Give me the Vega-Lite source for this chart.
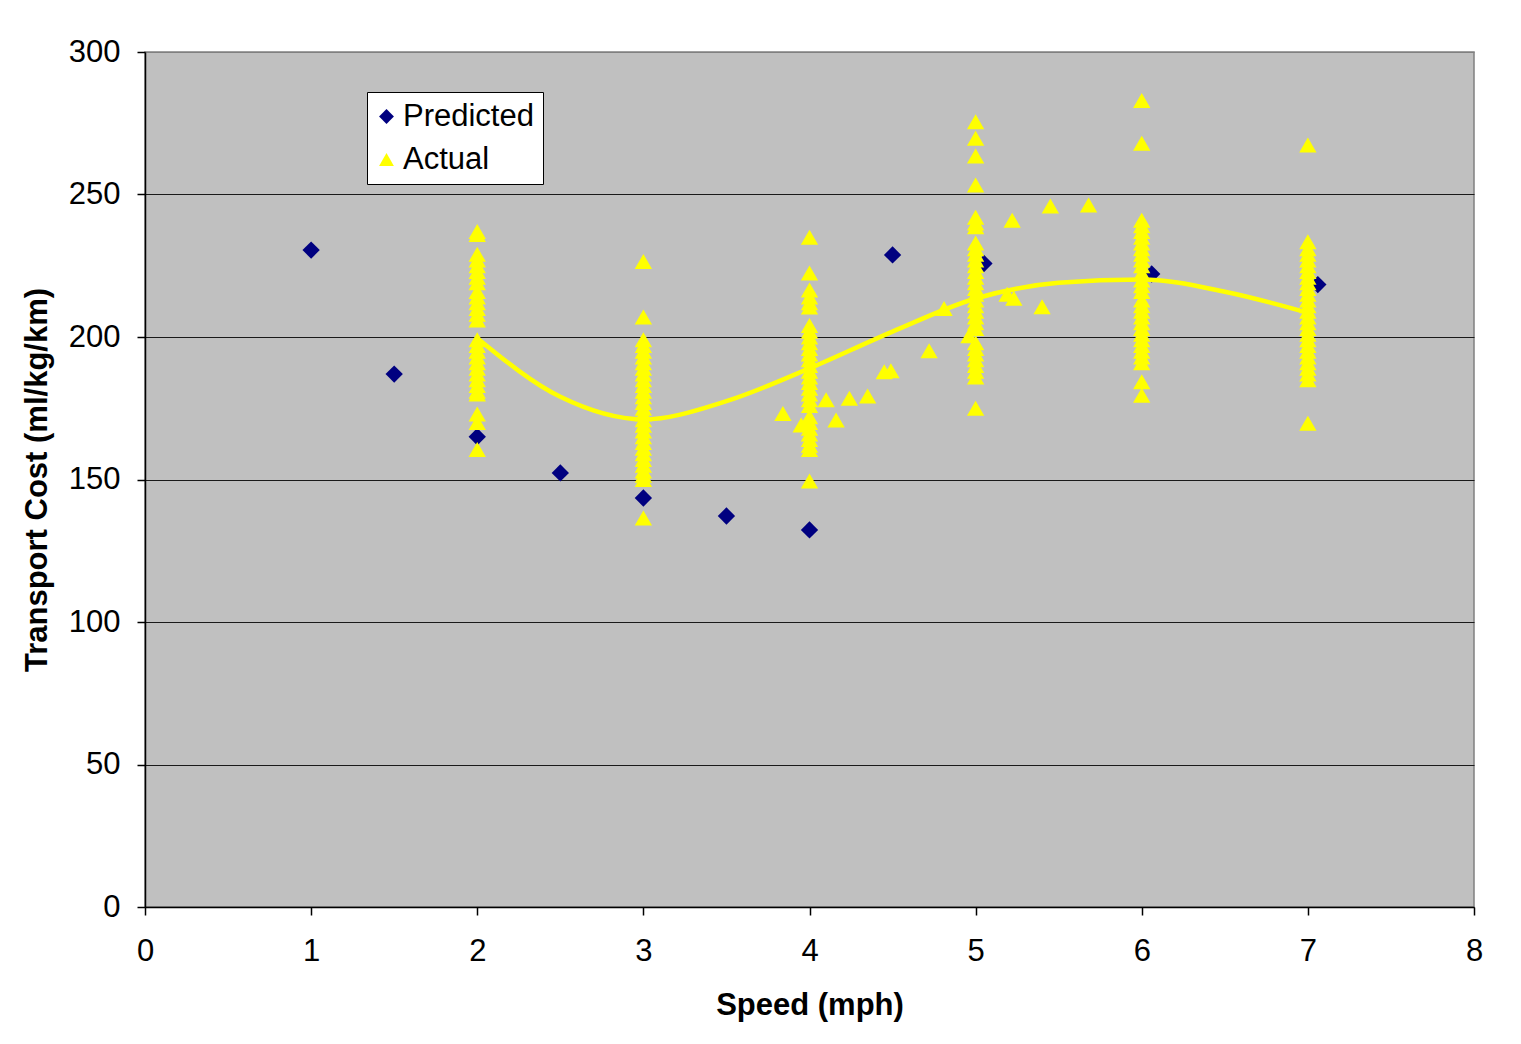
{
  "$schema": "https://vega.github.io/schema/vega-lite/v6.json",
  "width": 1329,
  "height": 855,
  "autosize": {"type": "none"},
  "padding": {"left": 145, "top": 52, "right": 47, "bottom": 137},
  "background": "#FFFFFF",
  "config": {
    "font": "Liberation Sans",
    "view": {"fill": "#C0C0C0", "stroke": "#808080", "strokeWidth": 1.5},
    "axis": {
      "labelFont": "Liberation Sans",
      "labelFontSize": 31,
      "labelColor": "#000000",
      "titleFont": "Liberation Sans",
      "titleFontSize": 31,
      "titleFontWeight": "bold",
      "titleColor": "#000000",
      "domainColor": "#000000",
      "domainWidth": 1.5,
      "tickColor": "#000000",
      "tickSize": 8,
      "tickWidth": 1.5
    },
    "legend": {
      "labelFont": "Liberation Sans",
      "labelFontSize": 31,
      "labelColor": "#000000"
    }
  },
  "datasets": {
    "points": [
      {"speed": 1, "cost": 230.5, "series": "Predicted"},
      {"speed": 1.5, "cost": 187, "series": "Predicted"},
      {"speed": 2, "cost": 165, "series": "Predicted"},
      {"speed": 2.5, "cost": 152.3, "series": "Predicted"},
      {"speed": 3, "cost": 143.5, "series": "Predicted"},
      {"speed": 3.5, "cost": 137.2, "series": "Predicted"},
      {"speed": 4, "cost": 132.3, "series": "Predicted"},
      {"speed": 4.5, "cost": 228.8, "series": "Predicted"},
      {"speed": 5.05, "cost": 225.8, "series": "Predicted"},
      {"speed": 6.06, "cost": 222.1, "series": "Predicted"},
      {"speed": 7.06, "cost": 218.4, "series": "Predicted"},

      {"speed": 2, "cost": 256.5, "series": "Actual"},
      {"speed": 2, "cost": 237, "series": "Actual"},
      {"speed": 2, "cost": 236, "series": "Actual"},
      {"speed": 2, "cost": 229, "series": "Actual"},
      {"speed": 2, "cost": 227, "series": "Actual"},
      {"speed": 2, "cost": 225, "series": "Actual"},
      {"speed": 2, "cost": 223, "series": "Actual"},
      {"speed": 2, "cost": 221, "series": "Actual"},
      {"speed": 2, "cost": 219, "series": "Actual"},
      {"speed": 2, "cost": 216, "series": "Actual"},
      {"speed": 2, "cost": 214, "series": "Actual"},
      {"speed": 2, "cost": 212, "series": "Actual"},
      {"speed": 2, "cost": 210, "series": "Actual"},
      {"speed": 2, "cost": 208, "series": "Actual"},
      {"speed": 2, "cost": 206, "series": "Actual"},
      {"speed": 2, "cost": 199, "series": "Actual"},
      {"speed": 2, "cost": 197, "series": "Actual"},
      {"speed": 2, "cost": 195, "series": "Actual"},
      {"speed": 2, "cost": 193, "series": "Actual"},
      {"speed": 2, "cost": 191, "series": "Actual"},
      {"speed": 2, "cost": 189, "series": "Actual"},
      {"speed": 2, "cost": 187, "series": "Actual"},
      {"speed": 2, "cost": 185, "series": "Actual"},
      {"speed": 2, "cost": 183, "series": "Actual"},
      {"speed": 2, "cost": 181, "series": "Actual"},
      {"speed": 2, "cost": 180, "series": "Actual"},
      {"speed": 2, "cost": 173, "series": "Actual"},
      {"speed": 2, "cost": 170, "series": "Actual"},
      {"speed": 2, "cost": 160.5, "series": "Actual"},

      {"speed": 3, "cost": 226.5, "series": "Actual"},
      {"speed": 3, "cost": 207, "series": "Actual"},
      {"speed": 3, "cost": 199, "series": "Actual"},
      {"speed": 3, "cost": 197, "series": "Actual"},
      {"speed": 3, "cost": 195, "series": "Actual"},
      {"speed": 3, "cost": 193, "series": "Actual"},
      {"speed": 3, "cost": 191, "series": "Actual"},
      {"speed": 3, "cost": 189, "series": "Actual"},
      {"speed": 3, "cost": 187, "series": "Actual"},
      {"speed": 3, "cost": 185, "series": "Actual"},
      {"speed": 3, "cost": 183, "series": "Actual"},
      {"speed": 3, "cost": 181, "series": "Actual"},
      {"speed": 3, "cost": 179, "series": "Actual"},
      {"speed": 3, "cost": 177, "series": "Actual"},
      {"speed": 3, "cost": 175, "series": "Actual"},
      {"speed": 3, "cost": 173, "series": "Actual"},
      {"speed": 3, "cost": 171, "series": "Actual"},
      {"speed": 3, "cost": 169, "series": "Actual"},
      {"speed": 3, "cost": 167, "series": "Actual"},
      {"speed": 3, "cost": 165, "series": "Actual"},
      {"speed": 3, "cost": 163, "series": "Actual"},
      {"speed": 3, "cost": 161, "series": "Actual"},
      {"speed": 3, "cost": 159, "series": "Actual"},
      {"speed": 3, "cost": 157, "series": "Actual"},
      {"speed": 3, "cost": 155, "series": "Actual"},
      {"speed": 3, "cost": 153, "series": "Actual"},
      {"speed": 3, "cost": 151.5, "series": "Actual"},
      {"speed": 3, "cost": 150, "series": "Actual"},
      {"speed": 3, "cost": 136.5, "series": "Actual"},

      {"speed": 4, "cost": 235, "series": "Actual"},
      {"speed": 4, "cost": 222.5, "series": "Actual"},
      {"speed": 4, "cost": 216.5, "series": "Actual"},
      {"speed": 4, "cost": 214, "series": "Actual"},
      {"speed": 4, "cost": 212, "series": "Actual"},
      {"speed": 4, "cost": 210.5, "series": "Actual"},
      {"speed": 4, "cost": 204, "series": "Actual"},
      {"speed": 4, "cost": 202, "series": "Actual"},
      {"speed": 4, "cost": 200, "series": "Actual"},
      {"speed": 4, "cost": 198, "series": "Actual"},
      {"speed": 4, "cost": 196, "series": "Actual"},
      {"speed": 4, "cost": 194, "series": "Actual"},
      {"speed": 4, "cost": 192, "series": "Actual"},
      {"speed": 4, "cost": 190, "series": "Actual"},
      {"speed": 4, "cost": 188, "series": "Actual"},
      {"speed": 4, "cost": 186, "series": "Actual"},
      {"speed": 4, "cost": 184, "series": "Actual"},
      {"speed": 4, "cost": 182, "series": "Actual"},
      {"speed": 4, "cost": 180, "series": "Actual"},
      {"speed": 4, "cost": 178, "series": "Actual"},
      {"speed": 4, "cost": 176, "series": "Actual"},
      {"speed": 4, "cost": 172, "series": "Actual"},
      {"speed": 4, "cost": 170, "series": "Actual"},
      {"speed": 4, "cost": 168, "series": "Actual"},
      {"speed": 4, "cost": 166, "series": "Actual"},
      {"speed": 4, "cost": 164, "series": "Actual"},
      {"speed": 4, "cost": 162, "series": "Actual"},
      {"speed": 4, "cost": 160.5, "series": "Actual"},
      {"speed": 4, "cost": 149.5, "series": "Actual"},

      {"speed": 3.84, "cost": 173.2, "series": "Actual"},
      {"speed": 3.95, "cost": 169.1, "series": "Actual"},
      {"speed": 4.1, "cost": 178, "series": "Actual"},
      {"speed": 4.16, "cost": 170.9, "series": "Actual"},
      {"speed": 4.24, "cost": 178.5, "series": "Actual"},
      {"speed": 4.35, "cost": 179.3, "series": "Actual"},
      {"speed": 4.45, "cost": 187.8, "series": "Actual"},
      {"speed": 4.49, "cost": 188.2, "series": "Actual"},
      {"speed": 4.72, "cost": 195.2, "series": "Actual"},
      {"speed": 4.81, "cost": 210, "series": "Actual"},
      {"speed": 4.96, "cost": 200.4, "series": "Actual"},

      {"speed": 5, "cost": 275.5, "series": "Actual"},
      {"speed": 5, "cost": 269.7, "series": "Actual"},
      {"speed": 5, "cost": 263.5, "series": "Actual"},
      {"speed": 5, "cost": 253.3, "series": "Actual"},
      {"speed": 5, "cost": 242, "series": "Actual"},
      {"speed": 5, "cost": 240, "series": "Actual"},
      {"speed": 5, "cost": 238.7, "series": "Actual"},
      {"speed": 5, "cost": 233, "series": "Actual"},
      {"speed": 5, "cost": 231, "series": "Actual"},
      {"speed": 5, "cost": 229, "series": "Actual"},
      {"speed": 5, "cost": 227, "series": "Actual"},
      {"speed": 5, "cost": 225, "series": "Actual"},
      {"speed": 5, "cost": 223, "series": "Actual"},
      {"speed": 5, "cost": 221, "series": "Actual"},
      {"speed": 5, "cost": 219, "series": "Actual"},
      {"speed": 5, "cost": 217, "series": "Actual"},
      {"speed": 5, "cost": 215, "series": "Actual"},
      {"speed": 5, "cost": 213, "series": "Actual"},
      {"speed": 5, "cost": 211, "series": "Actual"},
      {"speed": 5, "cost": 209, "series": "Actual"},
      {"speed": 5, "cost": 207, "series": "Actual"},
      {"speed": 5, "cost": 205, "series": "Actual"},
      {"speed": 5, "cost": 203, "series": "Actual"},
      {"speed": 5, "cost": 198, "series": "Actual"},
      {"speed": 5, "cost": 196, "series": "Actual"},
      {"speed": 5, "cost": 194, "series": "Actual"},
      {"speed": 5, "cost": 192, "series": "Actual"},
      {"speed": 5, "cost": 190, "series": "Actual"},
      {"speed": 5, "cost": 188, "series": "Actual"},
      {"speed": 5, "cost": 186, "series": "Actual"},
      {"speed": 5, "cost": 175, "series": "Actual"},

      {"speed": 5.19, "cost": 215, "series": "Actual"},
      {"speed": 5.22, "cost": 241, "series": "Actual"},
      {"speed": 5.23, "cost": 213.6, "series": "Actual"},
      {"speed": 5.4, "cost": 210.6, "series": "Actual"},
      {"speed": 5.45, "cost": 246, "series": "Actual"},
      {"speed": 5.68, "cost": 246.3, "series": "Actual"},

      {"speed": 6, "cost": 283, "series": "Actual"},
      {"speed": 6, "cost": 268, "series": "Actual"},
      {"speed": 6, "cost": 241, "series": "Actual"},
      {"speed": 6, "cost": 239, "series": "Actual"},
      {"speed": 6, "cost": 237, "series": "Actual"},
      {"speed": 6, "cost": 235, "series": "Actual"},
      {"speed": 6, "cost": 233, "series": "Actual"},
      {"speed": 6, "cost": 231, "series": "Actual"},
      {"speed": 6, "cost": 229, "series": "Actual"},
      {"speed": 6, "cost": 227, "series": "Actual"},
      {"speed": 6, "cost": 225, "series": "Actual"},
      {"speed": 6, "cost": 222.5, "series": "Actual"},
      {"speed": 6, "cost": 220, "series": "Actual"},
      {"speed": 6, "cost": 218, "series": "Actual"},
      {"speed": 6, "cost": 216, "series": "Actual"},
      {"speed": 6, "cost": 213, "series": "Actual"},
      {"speed": 6, "cost": 211, "series": "Actual"},
      {"speed": 6, "cost": 209, "series": "Actual"},
      {"speed": 6, "cost": 207, "series": "Actual"},
      {"speed": 6, "cost": 205, "series": "Actual"},
      {"speed": 6, "cost": 203, "series": "Actual"},
      {"speed": 6, "cost": 201, "series": "Actual"},
      {"speed": 6, "cost": 199, "series": "Actual"},
      {"speed": 6, "cost": 197, "series": "Actual"},
      {"speed": 6, "cost": 195, "series": "Actual"},
      {"speed": 6, "cost": 193, "series": "Actual"},
      {"speed": 6, "cost": 191, "series": "Actual"},
      {"speed": 6, "cost": 184.3, "series": "Actual"},
      {"speed": 6, "cost": 179.6, "series": "Actual"},

      {"speed": 7, "cost": 267.4, "series": "Actual"},
      {"speed": 7, "cost": 233.4, "series": "Actual"},
      {"speed": 7, "cost": 231, "series": "Actual"},
      {"speed": 7, "cost": 229, "series": "Actual"},
      {"speed": 7, "cost": 227, "series": "Actual"},
      {"speed": 7, "cost": 225, "series": "Actual"},
      {"speed": 7, "cost": 223, "series": "Actual"},
      {"speed": 7, "cost": 221, "series": "Actual"},
      {"speed": 7, "cost": 219, "series": "Actual"},
      {"speed": 7, "cost": 217, "series": "Actual"},
      {"speed": 7, "cost": 215, "series": "Actual"},
      {"speed": 7, "cost": 213, "series": "Actual"},
      {"speed": 7, "cost": 211, "series": "Actual"},
      {"speed": 7, "cost": 209, "series": "Actual"},
      {"speed": 7, "cost": 207, "series": "Actual"},
      {"speed": 7, "cost": 205, "series": "Actual"},
      {"speed": 7, "cost": 203, "series": "Actual"},
      {"speed": 7, "cost": 201, "series": "Actual"},
      {"speed": 7, "cost": 199, "series": "Actual"},
      {"speed": 7, "cost": 197, "series": "Actual"},
      {"speed": 7, "cost": 195, "series": "Actual"},
      {"speed": 7, "cost": 193, "series": "Actual"},
      {"speed": 7, "cost": 191, "series": "Actual"},
      {"speed": 7, "cost": 189, "series": "Actual"},
      {"speed": 7, "cost": 187, "series": "Actual"},
      {"speed": 7, "cost": 185, "series": "Actual"},
      {"speed": 7, "cost": 169.7, "series": "Actual"}
    ],
    "trend": [
      {"speed": 2, "cost": 199.6},
      {"speed": 2.5, "cost": 179},
      {"speed": 3, "cost": 171.1},
      {"speed": 3.5, "cost": 177.5},
      {"speed": 4, "cost": 189},
      {"speed": 4.5, "cost": 201.9},
      {"speed": 5, "cost": 213.5},
      {"speed": 5.5, "cost": 219},
      {"speed": 6, "cost": 220.2},
      {"speed": 6.5, "cost": 215.9},
      {"speed": 7, "cost": 208.5}
    ]
  },
  "layer": [
    {
      "data": {"name": "points"},
      "mark": {"type": "point", "filled": true, "opacity": 1, "size": 300, "strokeWidth": 0},
      "encoding": {
        "x": {
          "field": "speed", "type": "quantitative",
          "scale": {"domain": [0, 8], "nice": false, "zero": false},
          "axis": {
            "title": "Speed (mph)",
            "values": [0, 1, 2, 3, 4, 5, 6, 7, 8],
            "format": "d",
            "grid": false,
            "labelFlush": false,
            "labelPadding": 21,
            "titlePadding": 24
          }
        },
        "y": {
          "field": "cost", "type": "quantitative",
          "scale": {"domain": [0, 300], "nice": false},
          "axis": {
            "title": "Transport Cost (ml/kg/km)",
            "values": [0, 50, 100, 150, 200, 250, 300],
            "format": "d",
            "grid": true,
            "labelFlush": false,
            "gridColor": {"condition": {"test": "datum.value === 300", "value": "#808080"}, "value": "#1a1a1a"},
            "gridWidth": 1.2,
            "labelPadding": 17,
            "titlePadding": 15
          }
        },
        "shape": {
          "field": "series", "type": "nominal",
          "scale": {"domain": ["Predicted", "Actual"], "range": ["diamond", "triangle-up"]},
          "legend": {
            "title": null,
            "orient": "none",
            "legendX": 222,
            "legendY": 40,
            "fillColor": "#FFFFFF",
            "strokeColor": "#000000",
            "padding": 9,
            "rowPadding": 11,
            "symbolSize": 220,
            "symbolOffset": -5,
            "symbolStrokeWidth": 0,
            "labelOffset": 1,
            "labelLimit": 300
          }
        },
        "color": {
          "field": "series", "type": "nominal",
          "scale": {"domain": ["Predicted", "Actual"], "range": ["#000080", "#FFFF00"]},
          "legend": {
            "title": null,
            "orient": "none",
            "legendX": 222,
            "legendY": 40,
            "fillColor": "#FFFFFF",
            "strokeColor": "#000000",
            "padding": 9,
            "rowPadding": 11,
            "symbolSize": 220,
            "symbolOffset": -5,
            "symbolStrokeWidth": 0,
            "labelOffset": 1,
            "labelLimit": 300
          }
        },
        "order": {"field": "series", "sort": "descending"}
      }
    },
    {
      "data": {"name": "trend"},
      "mark": {"type": "line", "color": "#FFFF00", "strokeWidth": 4.5, "interpolate": "monotone"},
      "encoding": {
        "x": {"field": "speed", "type": "quantitative"},
        "y": {"field": "cost", "type": "quantitative"}
      }
    }
  ]
}
